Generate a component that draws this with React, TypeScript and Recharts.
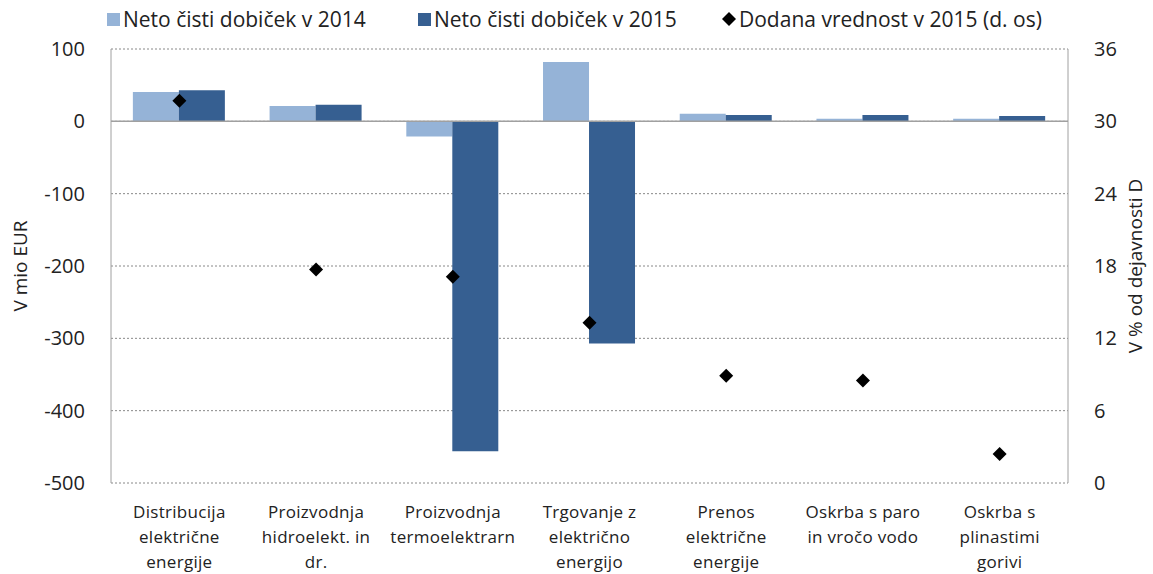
import React from "react";
import {
  ComposedChart, Bar, Scatter, XAxis, YAxis, CartesianGrid, ReferenceLine,
} from "recharts";

const categories = [
  "Distribucija\nelektrične\nenergije",
  "Proizvodnja\nhidroelekt. in\ndr.",
  "Proizvodnja\ntermoelektrarn",
  "Trgovanje z\nelektrično\nenergijo",
  "Prenos\nelektrične\nenergije",
  "Oskrba s paro\nin vročo vodo",
  "Oskrba s\nplinastimi\ngorivi",
];
const net2014 = [40.6, 21.3, -21, 82, 10.6, 3.7, 3.7];
const net2015 = [42.8, 23, -456, -307, 8.8, 8.8, 7.4];
const addedValue2015 = [31.7, 17.7, 17.1, 13.3, 8.9, 8.5, 2.4];
const leftTicks = [-500, -400, -300, -200, -100, 0, 100];
const rightTicks = [0, 6, 12, 18, 24, 30, 36];

const FONT = "'Open Sans', sans-serif";
const LIGHT = "#95b3d7";
const DARK = "#365f91";
const AXIS = "#a0a0a0";

const data = categories.map((c, i) => ({
  name: c,
  n2014: net2014[i],
  n2015: net2015[i],
  dv: addedValue2015[i],
}));

const CategoryTick = (props: any) => {
  const { x, y, payload } = props;
  const lines = String(payload.value).split("\n");
  return (
    <text x={x} y={y} textAnchor="middle" fontFamily={FONT} fontSize={17} letterSpacing={0.3} fill="#222">
      {lines.map((l, i) => (
        <tspan key={i} x={x} dy={i === 0 ? 27 : 25}>{l}</tspan>
      ))}
    </text>
  );
};

const Diamond = (props: any) => {
  const { cx, cy } = props;
  if (cx == null || cy == null) return null;
  const r = 7;
  return <polygon points={`${cx},${cy - r} ${cx + r},${cy} ${cx},${cy + r} ${cx - r},${cy}`} fill="#000" />;
};

const legendItem: React.CSSProperties = { position: "absolute", top: 5, display: "flex", alignItems: "center" };

const LegendBox = () => (
  <div style={{ position: "absolute", left: 0, top: 0, width: 1153, height: 40, fontFamily: FONT, fontSize: 21, color: "#222" }}>
    <div style={{ ...legendItem, left: 107 }}>
      <span style={{ width: 13, height: 13, background: LIGHT, marginRight: 3 }} />
      <span>Neto čisti dobiček v 2014</span>
    </div>
    <div style={{ ...legendItem, left: 418 }}>
      <span style={{ width: 13, height: 13, background: DARK, marginRight: 3 }} />
      <span>Neto čisti dobiček v 2015</span>
    </div>
    <div style={{ ...legendItem, left: 722 }}>
      <svg width={14} height={14} style={{ marginRight: 3 }}>
        <polygon points="7,0 14,7 7,14 0,7" fill="#000" />
      </svg>
      <span>Dodana vrednost v 2015 (d. os)</span>
    </div>
  </div>
);

export default function App() {
  return (
    <div style={{ position: "absolute", left: 0, top: 0, width: 1153, height: 574, background: "#fff" }}>
      <ComposedChart
        width={1153}
        height={574}
        data={data}
        margin={{ top: 49, right: 0, bottom: 0, left: 0 }}
        barCategoryGap="16%"
        barGap={0}
      >
        <CartesianGrid vertical={false} strokeDasharray="2 2" stroke="#888" />
        <XAxis
          dataKey="name"
          height={91}
          axisLine={false}
          tickLine={false}
          interval={0}
          tick={<CategoryTick />}
        />
        <YAxis
          width={111}
          domain={[-500, 100]}
          ticks={leftTicks}
          axisLine={{ stroke: AXIS }}
          tickLine={false}
          tickMargin={20}
          tick={{ fontFamily: FONT, fontSize: 20, fill: "#222" }}
          label={{
            value: "V mio EUR", angle: -90, position: "insideLeft", offset: 20,
            style: { fontFamily: FONT, fontSize: 19, fill: "#222", textAnchor: "middle" },
          }}
        />
        <YAxis
          yAxisId="right"
          orientation="right"
          width={85}
          domain={[0, 36]}
          ticks={rightTicks}
          axisLine={{ stroke: AXIS }}
          tickLine={false}
          tickMargin={20}
          tick={{ fontFamily: FONT, fontSize: 20, fill: "#222" }}
          label={{
            value: "V % od dejavnosti D", angle: -90, position: "insideRight", offset: 18,
            style: { fontFamily: FONT, fontSize: 19, fill: "#222", textAnchor: "middle" },
          }}
        />
        <ReferenceLine y={0} stroke={AXIS} strokeWidth={1.5} />
        <Bar dataKey="n2014" name="Neto čisti dobiček v 2014" fill={LIGHT} isAnimationActive={false} />
        <Bar dataKey="n2015" name="Neto čisti dobiček v 2015" fill={DARK} isAnimationActive={false} />
        <Scatter
          dataKey="dv"
          yAxisId="right"
          name="Dodana vrednost v 2015 (d. os)"
          fill="#000"
          shape={<Diamond />}
          isAnimationActive={false}
        />
      </ComposedChart>
      <LegendBox />
    </div>
  );
}
